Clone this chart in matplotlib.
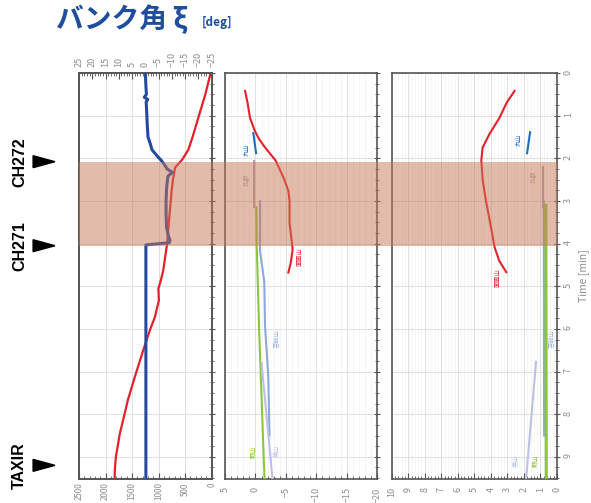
import matplotlib.pyplot as plt
import matplotlib.transforms as mtransforms
from matplotlib.patches import Rectangle, Polygon
from matplotlib.ticker import MultipleLocator

plt.rcParams['font.family'] = ['Noto Sans CJK JP', 'DejaVu Sans']

# ---- data (time in minutes) ----
T_MAX = 9.52
shade_span = (2.08, 4.05)
events = ['CH272', 'CH271', 'TAXIR']
event_t = [2.08, 4.05, 9.2]

# panel 1 : altitude (bottom axis) and bank angle (top axis)
alt_t = [0, 0.5, 1.0, 1.5, 1.8, 2.03, 2.22, 2.5, 2.76, 3.4, 4.0, 4.63, 4.87,
         5.06, 5.33, 5.72, 6.03, 6.5, 7.12, 7.67, 7.9, 8.45, 9.0, 9.3, 9.52]
alt_v = [20, 120, 240, 360, 440, 555, 690, 730, 755, 800, 840, 913, 960,
         1005, 995, 1070, 1164, 1290, 1447, 1580, 1623, 1730, 1805, 1825, 1830]
bank_t = [0, 0.3, 0.5, 0.57, 0.62, 0.68, 0.9, 1.2, 1.5, 1.65, 1.8, 1.95, 2.05,
          2.15, 2.25, 2.33, 2.42, 2.7, 3.0, 3.3, 3.62, 3.8, 3.93, 3.98, 4.03, 9.52]
bank_v = [0, -0.2, -0.4, 0.4, -0.9, -0.3, -0.5, -0.7, -1.0, -1.8, -2.5, -4.5, -6.0,
          -7.2, -8.2, -10.2, -8.5, -8.0, -7.8, -7.8, -8.0, -8.6, -9.3, -9.0, -0.2, -0.2]

# panel 2 / panel 3 series: name -> (t, values)
names = ['面面山', '丸山', '比叡', '苫前山', '野山', '美山']
colors = ['#e3202b', '#1f6fb8', '#b7a0b4', '#8ea8d8', '#8cc63f', '#bcc0e2']

p2_t = {
    '面面山': [0.42, 0.7, 1.05, 1.36, 1.55, 1.75, 2.05, 2.45, 2.76, 3.0, 3.53, 3.93, 4.14, 4.45, 4.68],
    '丸山': [1.41, 1.88],
    '比叡': [2.07, 3.15],
    '苫前山': [3.0, 4.17, 4.9, 5.93, 7.1, 8.42, 8.5],
    '野山': [3.15, 4.0, 5.0, 6.0, 7.0, 8.0, 9.0, 9.52],
    '美山': [6.8, 7.7, 8.6, 9.52],
}
p2_v = {
    '面面山': [1.7, 1.3, 0.9, 0.1, -0.6, -1.6, -3.3, -4.6, -5.4, -5.6, -5.6, -5.95, -6.1, -5.8, -5.4],
    '丸山': [0.35, -0.1],
    '比叡': [0.2, 0.2],
    '苫前山': [-0.75, -0.75, -1.45, -1.57, -2.1, -2.3, -2.3],
    '野山': [-0.15, -0.2, -0.4, -0.6, -0.85, -1.1, -1.35, -1.5],
    '美山': [-1.0, -1.6, -2.2, -2.8],
}
p3_t = {
    '面面山': [0.42, 0.7, 1.05, 1.44, 1.75, 2.05, 2.5, 3.0, 3.5, 4.08, 4.4, 4.67],
    '丸山': [1.39, 1.88],
    '比叡': [2.2, 3.15],
    '苫前山': [3.0, 8.5],
    '野山': [3.1, 9.52],
    '美山': [6.77, 9.52],
}
p3_v = {
    '面面山': [2.57, 3.05, 3.48, 4.1, 4.5, 4.58, 4.5, 4.3, 4.05, 3.78, 3.5, 3.07],
    '丸山': [1.63, 1.81],
    '比叡': [0.87, 0.87],
    '苫前山': [0.8, 0.78],
    '野山': [0.68, 0.65],
    '美山': [1.27, 1.87],
}
# where the small series names sit (value, time)
p2_lab = {'面面山': (-7.3, 4.3), '丸山': (1.4, 1.8), '比叡': (1.5, 2.5),
          '苫前山': (-3.3, 6.24), '野山': (0.2, 8.88), '美山': (-3.6, 8.86)}
p3_lab = {'面面山': (3.6, 4.8), '丸山': (2.3, 1.57), '比叡': (1.45, 2.43),
          '苫前山': (0.36, 6.24), '野山': (1.3, 9.1), '美山': (2.45, 9.1)}

TICK_C = '#555555'
LAB_C = '#8c8c8c'


def style(ax, xmaj, xmin, minor_grid=True, right_labels=False):
    ax.set_ylim(T_MAX, 0)
    ax.yaxis.set_major_locator(MultipleLocator(1))
    ax.yaxis.set_minor_locator(MultipleLocator(0.25))
    ax.xaxis.set_major_locator(MultipleLocator(xmaj))
    ax.xaxis.set_minor_locator(MultipleLocator(xmin))
    ax.yaxis.tick_right()
    ax.tick_params(axis='y', which='both', direction='inout', color=TICK_C,
                   labelright=right_labels, labelcolor=LAB_C, labelsize=6.5,
                   labelrotation=90, pad=3)
    ax.tick_params(axis='y', which='major', length=4, width=0.8)
    ax.tick_params(axis='y', which='minor', length=2.5, width=0.6)
    ax.tick_params(axis='x', which='both', direction='in', color=TICK_C,
                   labelcolor=LAB_C, labelsize=6.5, labelrotation=90, pad=6)
    ax.tick_params(axis='x', which='major', length=4, width=0.8)
    ax.tick_params(axis='x', which='minor', length=2.5, width=0.6)
    ax.grid(which='major', color='#dadada', lw=0.6)
    if minor_grid:
        ax.grid(axis='x', which='minor', color='#efefef', lw=0.4)
    ax.set_axisbelow(True)
    for s in ax.spines.values():
        s.set_color(TICK_C)
        s.set_linewidth(1.2)


fig = plt.figure(figsize=(5.91, 5.03), dpi=100)
ax1 = fig.add_axes([0.1337, 0.0477, 0.2245, 0.8072])
ax2 = fig.add_axes([0.3807, 0.0477, 0.2577, 0.8072])
ax3 = fig.add_axes([0.6628, 0.0477, 0.2797, 0.8072])

# panel 1
style(ax1, 500, 100, minor_grid=False)
ax1.set_xlim(2500, 0)
# the 4-digit altitude labels need a little less room to stay on the canvas
ax1.tick_params(axis='x', which='both', labelsize=5.8, pad=2.5)
ax1.plot(alt_v, alt_t, color='#e3202b', lw=1.6, zorder=3)
ax1b = ax1.twiny()
ax1b.set_xlim(25, -25)
ax1b.xaxis.set_major_locator(MultipleLocator(5))
ax1b.xaxis.set_minor_locator(MultipleLocator(1))
ax1b.tick_params(axis='x', which='both', direction='in', color=TICK_C,
                 labelcolor=LAB_C, labelsize=6.5, labelrotation=90, pad=4)
ax1b.tick_params(axis='x', which='major', length=4, width=0.8)
ax1b.tick_params(axis='x', which='minor', length=2.5, width=0.6)
for s in ax1b.spines.values():
    s.set_color(TICK_C)
    s.set_linewidth(1.2)
ax1b.plot(bank_v, bank_t, color='#2349a0', lw=2.2, zorder=3)

# panel 2
style(ax2, 5, 1)
ax2.set_xlim(5, -20)
for n, c in zip(names, colors):
    ax2.plot(p2_v[n], p2_t[n], color=c, lw=1.5, zorder=3)
    x, y = p2_lab[n]
    ax2.text(x, y, n, rotation=90, fontsize=4.5, color=c, ha='center', va='center')

# panel 3
style(ax3, 1, 0.2, right_labels=True)
ax3.set_xlim(10, 0)
for n, c in zip(names, colors):
    lw = 2.2 if n == '野山' else 1.5
    ax3.plot(p3_v[n], p3_t[n], color=c, lw=lw, zorder=3)
    x, y = p3_lab[n]
    ax3.text(x, y, n, rotation=90, fontsize=4.5, color=c, ha='center', va='center')
ax3.yaxis.set_label_position('right')
ax3.set_ylabel('Time [min]', color=LAB_C, fontsize=7.5, labelpad=4)

# shaded section spanning all panels
blend = mtransforms.blended_transform_factory(fig.transFigure, ax3.transData)
fig.add_artist(Rectangle((0.1337, shade_span[0]), 0.9425 - 0.1337,
                         shade_span[1] - shade_span[0], transform=blend,
                         facecolor='#c87858', alpha=0.5, lw=0, zorder=5))

# event markers on the left
for name, t in zip(events, event_t):
    fig.text(0.033, t, name, transform=blend, rotation=90, ha='center',
             va='center', fontsize=11.5, fontweight='bold',
             family=['Liberation Sans', 'DejaVu Sans'])
    fig.add_artist(Polygon([(0.056, t - 0.14), (0.056, t + 0.14), (0.093, t)],
                           closed=True, transform=blend, facecolor='black',
                           edgecolor='black', zorder=6))

# title
fig.text(0.095, 0.962, 'バンク角 ξ', fontsize=20, fontweight='bold',
         color='#1f4e9c', ha='left', va='center')
fig.text(0.342, 0.955, '[deg]', fontsize=8.5, fontweight='bold',
         color='#1f4e9c', ha='left', va='center')

fig.savefig('out.png', dpi=100)
